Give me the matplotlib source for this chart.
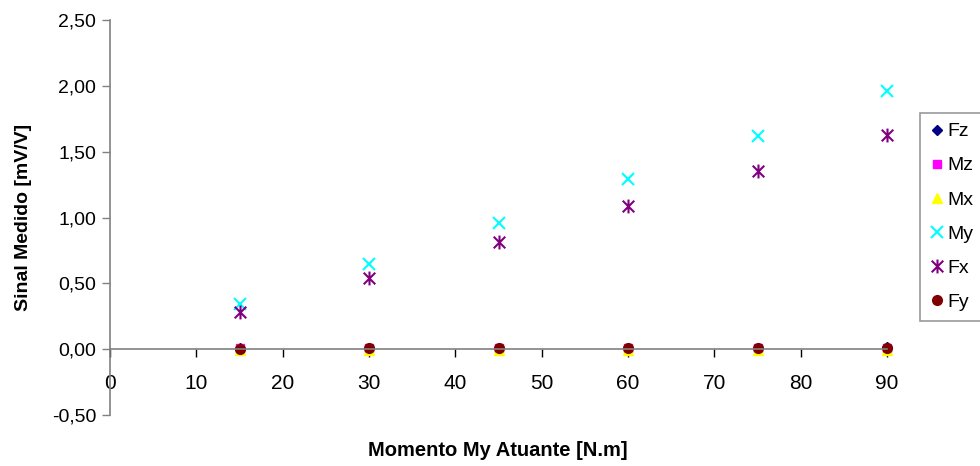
import matplotlib
matplotlib.use("Agg")
import matplotlib.pyplot as plt
from matplotlib.path import Path
from matplotlib.ticker import FuncFormatter

plt.rcParams['font.family'] = ['Liberation Sans', 'DejaVu Sans']

momento = [15, 30, 45, 60, 75, 90]
fz = [0.01, 0.01, 0.01, 0.01, 0.01, 0.02]
mz = [0.01, 0.01, 0.01, 0.01, 0.01, 0.01]
mx = [-0.01, -0.01, -0.01, -0.01, -0.01, -0.01]
my = [0.34, 0.645, 0.96, 1.29, 1.62, 1.96]
fx = [0.285, 0.54, 0.815, 1.085, 1.355, 1.63]
fy = [0.005, 0.01, 0.01, 0.01, 0.01, 0.01]

# asterisk marker: x plus vertical bar
asterisk = Path([(-1, -1), (1, 1), (-1, 1), (1, -1), (0, -1.2), (0, 1.2)],
                [Path.MOVETO, Path.LINETO, Path.MOVETO, Path.LINETO,
                 Path.MOVETO, Path.LINETO])

fig = plt.figure(figsize=(9.8, 4.66), dpi=100)
ax = fig.add_axes([110 / 980, 1 - 415 / 466, 777 / 980, 395 / 466])

ax.plot(momento, fz, ls='none', marker='D', ms=5, color='#000080', label='Fz', clip_on=False)
ax.plot(momento, mz, ls='none', marker='s', ms=6, color='#FF00FF', label='Mz', clip_on=False)
ax.plot(momento, mx, ls='none', marker='^', ms=7, color='#FFFF00', label='Mx', clip_on=False)
ax.plot(momento, my, ls='none', marker='x', ms=9, mew=1.5, color='#00FFFF', label='My', clip_on=False)
ax.plot(momento, fx, ls='none', marker=asterisk, ms=10, mew=1.5, color='#800080', label='Fx', clip_on=False)
ax.plot(momento, fy, ls='none', marker='o', ms=7, color='#800000', label='Fy', clip_on=False)

ax.set_xlim(0, 90)
ax.set_ylim(-0.5, 2.5)
ax.set_xticks(range(0, 91, 10))
ax.set_yticks([-0.5, 0, 0.5, 1.0, 1.5, 2.0, 2.5])
ax.yaxis.set_major_formatter(FuncFormatter(lambda v, p: f"{v:.2f}".replace('.', ',')))

ax.spines['top'].set_visible(False)
ax.spines['right'].set_visible(False)
ax.spines['bottom'].set_position(('data', 0))
ax.spines['left'].set_color('#808080')
ax.spines['bottom'].set_color('#808080')
ax.spines['left'].set_linewidth(1.2)
ax.spines['bottom'].set_linewidth(1.2)

ax.tick_params(axis='y', direction='out', length=6, width=1, color='#808080', labelsize=14, pad=4)
ax.tick_params(axis='x', direction='out', length=6, width=1, color='#000000', labelsize=15, pad=12)

ax.set_ylabel('Sinal Medido [mV/V]', fontsize=14, fontweight='bold')
ax.yaxis.set_label_coords((32 - 110) / 777, 0.5)
fig.text(498 / 980, 1 - 450 / 466, 'Momento My Atuante [N.m]', fontsize=14.5,
         fontweight='bold', ha='center', va='center')

leg = fig.legend(loc='upper left', bbox_to_anchor=(920 / 980, 1 - 113 / 466),
                 frameon=True, fancybox=False, fontsize=14, labelspacing=0.85,
                 handletextpad=0.2, handlelength=0.7, borderpad=0.5, borderaxespad=0)
leg.get_frame().set_edgecolor('#808080')
leg.get_frame().set_linewidth(1.2)

fig.savefig('out.png', dpi=100)
